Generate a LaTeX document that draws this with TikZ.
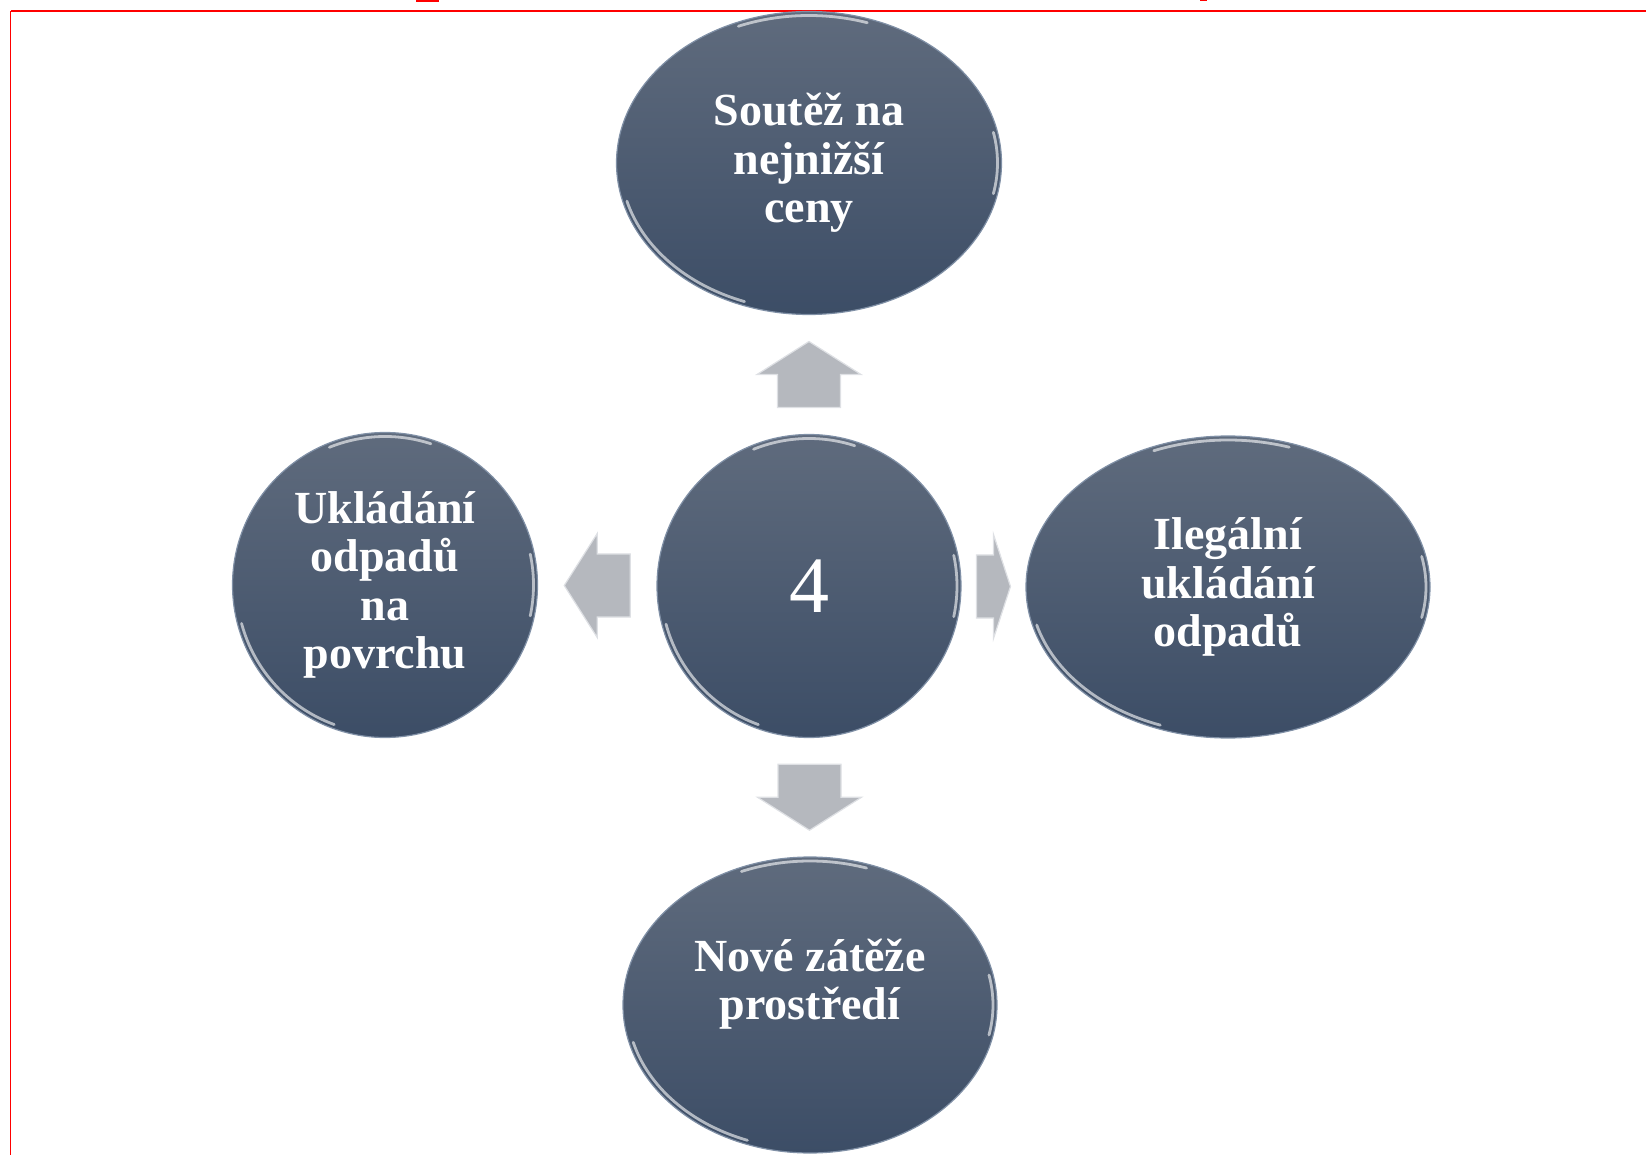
\documentclass[tikz,border=0pt]{standalone}
\usepackage{fontspec}
\setmainfont{Liberation Serif}
\usetikzlibrary{shapes.geometric,calc}

\definecolor{ballTop}{RGB}{95,107,125}
\definecolor{ballBot}{RGB}{60,77,102}
\definecolor{ballRim}{RGB}{128,144,166}
\definecolor{arrowGray}{RGB}{181,184,190}
\definecolor{arrowEdge}{RGB}{222,224,228}
\definecolor{frameRed}{RGB}{255,0,0}

\tikzset{
  ball/.style={ellipse, inner sep=0pt, top color=ballTop, bottom color=ballBot,
    draw=ballRim, line width=0.6pt, text=white, align=center,
    font=\fontsize{23}{24.3}\selectfont\bfseries,
    path picture={
      \draw[white, opacity=0.6, line width=1.4pt, line cap=round]
        let \p1=(path picture bounding box.north east),
            \p2=(path picture bounding box.center),
            \n1={\x1-\x2-2pt}, \n2={\y1-\y2-2pt} in
        (\p2) ++(195:\n1 and \n2) arc[start angle=195, end angle=250, x radius=\n1, y radius=\n2]
        (\p2) ++(72:\n1 and \n2) arc[start angle=72, end angle=112, x radius=\n1, y radius=\n2]
        (\p2) ++(-12:\n1 and \n2) arc[start angle=-12, end angle=12, x radius=\n1, y radius=\n2];
    }},
  balltext/.style={text=white, align=center, font=\fontsize{23}{24.3}\selectfont\bfseries},
  arrowfill/.style={fill=arrowGray, draw=arrowEdge, line width=0.6pt}
}

% block arrow: centre, direction, half length
\newcommand{\blockarrow}[3]{%
  \begin{scope}[shift={(#1)}, rotate=#2]
    \filldraw[arrowfill] (#3,0) -- (0,52) -- (0,31.5) -- (-#3,31.5)
      -- (-#3,-31.5) -- (0,-31.5) -- (0,-52) -- cycle;
  \end{scope}}

\begin{document}
\begin{tikzpicture}[x=0.5pt, y=-0.5pt]
    \useasboundingbox (0,0) rectangle (1646,1155);

    % frame
    \draw[frameRed, line width=1.2pt] (10.5,11) -- (1646,11);
    \draw[frameRed, line width=0.7pt] (10.5,11) -- (10.5,1155);
    \fill[frameRed] (416,0) rectangle (439,2.5);
    \fill[frameRed] (1200,0) rectangle (1207,1.5);

    % circles
    \node[ball, minimum width=192.5pt, minimum height=151.5pt] (compete) at (809,163) {Soutěž na\\nejnižší\\ceny};
    \node[ball, minimum width=152pt, minimum height=151.5pt, font=\fontsize{40}{40}\selectfont] (hub) at (809,586) {4};
    \node[ball, minimum width=152.5pt, minimum height=152.5pt] (surface) at (385,585) {Ukládání\\odpadů\\na\\povrchu};
    \node[ball, minimum width=202pt, minimum height=151pt] (illegal) at (1228,587) {Ilegální\\ukládání\\odpadů};
    \node[ball, minimum width=187pt, minimum height=148pt] (burden) at (810,1005) {};
    \node[balltext] (burdentext) at ([yshift=10.5pt]burden.center) {Nové zátěže\\prostředí};

    % arrows between the circles
    \coordinate (upmid) at ($(hub.north)!0.5!(compete.south)$);
    \coordinate (downmid) at ($(hub.south)!0.5!(burden.north)$);
    \coordinate (leftmid) at ($(hub.west)!0.5!(surface.east)$);
    \coordinate (rightmid) at ($(hub.east)!0.5!(illegal.west)$);
    \blockarrow{upmid}{90}{33}
    \blockarrow{downmid}{270}{33}
    \blockarrow{leftmid}{180}{33}
    \blockarrow{rightmid}{0}{17}
\end{tikzpicture}
\end{document}
